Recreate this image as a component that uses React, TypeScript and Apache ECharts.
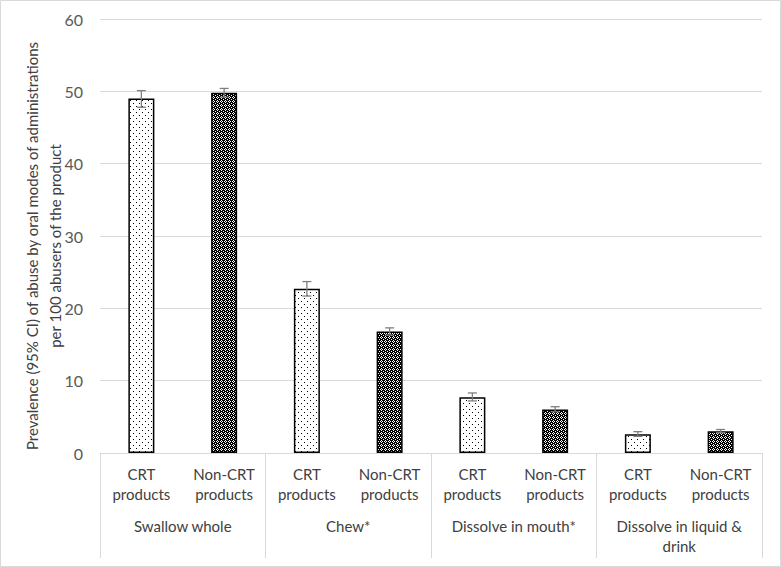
import React, { useEffect, useRef } from 'react';
import * as echarts from 'echarts';

const groups = ['Swallow whole', 'Chew*', 'Dissolve in mouth*', 'Dissolve in liquid &\ndrink'];
const productTypes = ['CRT\nproducts', 'Non-CRT\nproducts'];
const crtValues = [49.0, 22.7, 7.7, 2.6];
const nonCrtValues = [49.8, 16.8, 6.0, 3.0];
const crtLower = [47.8, 21.7, 7.2, 2.3];
const crtUpper = [50.1, 23.7, 8.3, 2.95];
const nonCrtLower = [49.2, 16.3, 5.7, 2.8];
const nonCrtUpper = [50.4, 17.3, 6.4, 3.25];
const yTitle = 'Prevalence (95% CI) of abuse by oral modes of administrations\nper 100 abusers of the product';

const FONT = 'Lato, "Liberation Sans", sans-serif';

function makeCrtPattern() {
  const c = document.createElement('canvas');
  c.width = 6; c.height = 6;
  const g = c.getContext('2d')!;
  g.fillStyle = '#ffffff'; g.fillRect(0, 0, 6, 6);
  g.fillStyle = '#000000';
  g.fillRect(1, 1, 1, 1);
  g.fillRect(4, 4, 1, 1);
  return c;
}
function makeNonCrtPattern() {
  const c = document.createElement('canvas');
  c.width = 4; c.height = 4;
  const g = c.getContext('2d')!;
  g.fillStyle = '#000000'; g.fillRect(0, 0, 4, 4);
  g.fillStyle = '#ffffff';
  g.fillRect(1, 0, 1, 1);
  g.fillRect(0, 1, 1, 1);
  g.fillRect(2, 1, 1, 1);
  g.fillRect(1, 2, 1, 1);
  g.fillRect(3, 3, 1, 1);
  return c;
}

export default function App() {
  const ref = useRef<HTMLDivElement>(null);
  useEffect(() => {
    document.body.style.margin = '0';
    const chart = echarts.init(ref.current!, null, { renderer: 'svg' });
    const crtPat = { image: makeCrtPattern(), repeat: 'repeat', imageWidth: 6, imageHeight: 6 } as any;
    const nonPat = { image: makeNonCrtPattern(), repeat: 'repeat', imageWidth: 4, imageHeight: 4 } as any;

    const cats: string[] = [];
    const barData: any[] = [];
    const errData: number[][] = [];
    groups.forEach((_, i) => {
      cats.push(productTypes[0]);
      cats.push(productTypes[1]);
      barData.push({ value: crtValues[i], itemStyle: { color: crtPat } });
      barData.push({ value: nonCrtValues[i], itemStyle: { color: nonPat } });
      errData.push([i * 2, crtLower[i], crtUpper[i]]);
      errData.push([i * 2 + 1, nonCrtLower[i], nonCrtUpper[i]]);
    });

    chart.setOption({
      animation: false,
      textStyle: { fontFamily: FONT },
      grid: { left: 100, right: 19, top: 19, bottom: 114 },
      xAxis: [
        {
          type: 'category',
          data: cats,
          position: 'bottom',
          axisLine: { show: true, lineStyle: { color: '#d9d9d9', width: 1 } },
          axisTick: { show: false },
          axisLabel: { interval: 0, fontSize: 15, color: '#404040', margin: 11, lineHeight: 20, fontFamily: FONT },
        },
        {
          type: 'category',
          data: groups,
          position: 'bottom',
          axisLine: { show: false },
          axisTick: { show: true, length: 105, interval: 0, lineStyle: { color: '#d9d9d9', width: 1 } },
          axisLabel: { interval: 0, fontSize: 15, color: '#404040', margin: 63, lineHeight: 20, fontFamily: FONT },
        },
      ],
      yAxis: {
        type: 'value',
        min: 0,
        max: 60,
        interval: 10,
        axisLine: { show: false },
        axisTick: { show: false },
        splitLine: { lineStyle: { color: '#d9d9d9', width: 1 } },
        axisLabel: { fontSize: 16, color: '#595959', margin: 17, fontFamily: FONT },
      },
      graphic: [
        {
          type: 'rect',
          shape: { x: 0.5, y: 0.5, width: 780, height: 566 },
          style: { fill: 'none', stroke: '#d9d9d9', lineWidth: 1 },
          silent: true,
        },
        {
          type: 'text',
          x: 43,
          y: 246,
          rotation: Math.PI / 2,
          style: {
            text: yTitle,
            fontSize: 15,
            fontFamily: FONT,
            fill: '#404040',
            align: 'center',
            verticalAlign: 'middle',
            lineHeight: 23,
          },
        },
      ],
      series: [
        {
          type: 'bar',
          xAxisIndex: 0,
          yAxisIndex: 0,
          data: barData,
          barWidth: 26,
          itemStyle: { borderColor: '#000000', borderWidth: 1.5 },
        },
        {
          type: 'custom',
          xAxisIndex: 0,
          yAxisIndex: 0,
          data: errData,
          z: 10,
          renderItem: (params: any, api: any) => {
            const lo = api.coord([api.value(0), api.value(1)]);
            const hi = api.coord([api.value(0), api.value(2)]);
            const cx = lo[0];
            const hw = 4.5;
            const st = { stroke: '#7f7f7f', lineWidth: 1.3 };
            return {
              type: 'group',
              children: [
                { type: 'line', shape: { x1: cx, y1: lo[1], x2: cx, y2: hi[1] }, style: st },
                { type: 'line', shape: { x1: cx - hw, y1: hi[1], x2: cx + hw, y2: hi[1] }, style: st },
                { type: 'line', shape: { x1: cx - hw, y1: lo[1], x2: cx + hw, y2: lo[1] }, style: st },
              ],
            };
          },
        },
      ],
    });
    return () => chart.dispose();
  }, []);
  return <div ref={ref} style={{ width: 781, height: 567 }} />;
}
